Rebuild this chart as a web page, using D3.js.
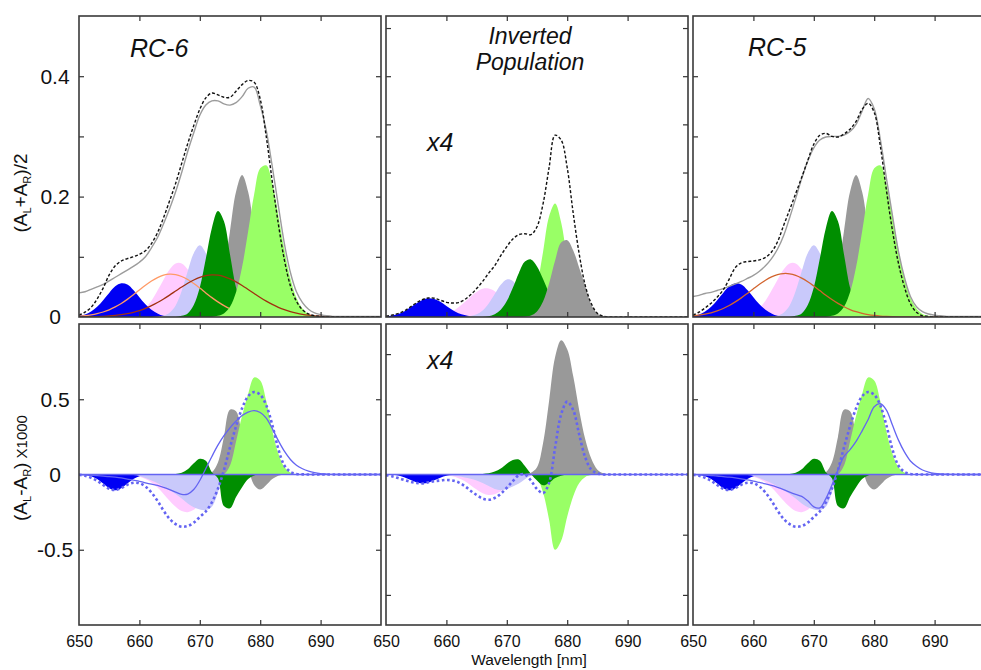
<!DOCTYPE html>
<html><head><meta charset="utf-8">
<script src="https://cdn.jsdelivr.net/npm/d3@7"></script>
<style>
body{margin:0;background:#fff}
svg{display:block;font-family:"Liberation Sans",Arial,Helvetica,sans-serif}
</style>
</head><body>
<svg id="c" width="981" height="670"></svg>
<script>
// ---------------- DATA (1 nm steps) ----------------
const wavelengths = [650,651,652,653,654,655,656,657,658,659,660,661,662,663,664,665,666,667,668,669,670,671,672,673,674,675,676,677,678,679,680,681,682,683,684,685,686,687,688,689,690,691,692,693,694,695,696,697,698,699,700];
const xTickLabels = [650,660,670,680,690];

// ---- absorption, RC-6 ----
const rc6Blue = [.002,.004,.009,.017,.028,.040,.051,.056,.054,.045, .033,.021,.012,.006,.002,.001,0,0,0,0, 0,0,0,0,0,0,0,0,0,0, 0,0,0,0,0,0,0,0,0,0, 0,0,0,0,0,0,0,0,0,0, 0];
const rc6Pink = [0,0,0,0,0,0,0,0,.001,.003, .007,.015,.027,.044,.062,.079,.089,.089,.079,.062, .044,.027,.015,.007,.003,.001,0,0,0,0, 0,0,0,0,0,0,0,0,0,0, 0,0,0,0,0,0,0,0,0,0, 0];
const rc6Lavender = [0,0,0,0,0,0,0,0,0,0, 0,0,0,.001,.002,.007,.019,.043,.076,.106, .119,.106,.076,.043,.019,.007,.002,.001,0,0, 0,0,0,0,0,0,0,0,0,0, 0,0,0,0,0,0,0,0,0,0, 0];
const rc6DarkGreen = [0,0,0,0,0,0,0,0,0,0, 0,0,0,0,0,0,0,.002,.006,.020, .049,.097,.148,.176,.159,.104,.049,.017,.004,.001, 0,0,0,0,0,0,0,0,0,0, 0,0,0,0,0,0,0,0,0,0, 0];
const rc6Gray = [0,0,0,0,0,0,0,0,0,0, 0,0,0,0,0,0,0,0,0,0, .001,.003,.010,.032,.077,.143,.208,.236,.208,.143, .077,.032,.010,.003,.001,0,0,0,0,0, 0,0,0,0,0,0,0,0,0,0, 0];
const rc6LightGreen = [0,0,0,0,0,0,0,0,0,0, 0,0,0,0,0,0,0,0,0,0, 0,0,0,.002,.006,.017,.041,.083,.142,.204, .247,.252,.222,.169,.112,.064,.032,.014,.005,.002, .001,0,0,0,0,0,0,0,0,0, 0];
const rc6Orange = [.0014,.0022,.0036,.0056,.0083,.0119,.0167,.0225,.0293,.0368, .0448,.0526,.0597,.0655,.0695,.0711,.0704,.0673,.0622,.0556, .0480,.0400,.0322,.0251,.0189,.0137,.0096,.0065,.0043,.0027, .0017,.0010,.0006,.0003,.0002,.0001,0,0,0,0, 0,0,0,0,0,0,0,0,0,0, 0];
const rc6Brown = [.0001,.0002,.0004,.0007,.0011,.0017,.0026,.0038,.0055,.0078, .0107,.0144,.0189,.0241,.0300,.0364,.0431,.0498,.0561,.0615, .0659,.0687,.0700,.0694,.0672,.0634,.0584,.0524,.0458,.0391, .0325,.0264,.0209,.0161,.0121,.0089,.0064,.0044,.0030,.0020, .0013,.0008,.0005,.0003,.0002,.0001,.0001,.0001,.0001,.0001, 0];
const rc6Measured = [.040,.042,.046,.050,.054,.060,.066,.072,.078,.084, .091,.100,.115,.132,.155,.180,.208,.240,.275,.306, .335,.352,.359,.359,.354,.352,.356,.366,.380,.382, .352,.310,.250,.185,.122,.074,.042,.024,.013,.007, .004,.002,.001,.001,.001,.001,.001,.001,.001,.001, .001];
const rc6Fit = [.003,.008,.016,.030,.048,.070,.085,.093,.097,.100, .104,.110,.122,.140,.165,.193,.222,.255,.288,.318, .345,.364,.372,.369,.365,.365,.375,.386,.393,.390, .362,.300,.225,.155,.095,.052,.026,.012,.005,.002, .001,0,0,0,0,0,0,0,0,0, 0];

// ---- absorption, inverted population (x4 scale) ----
const invBlue = [.0002,.0006,.0012,.0023,.0039,.0056,.0071,.0078,.0075,.0063, .0046,.0029,.0016,.0008,.0003,.0001,0,0,0,0, 0,0,0,0,0,0,0,0,0,0, 0,0,0,0,0,0,0,0,0,0, 0,0,0,0,0,0,0,0,0,0, 0];
const invPink = [0,0,0,0,0,0,0,0,.0003,.0006, .0012,.0023,.0040,.0061,.0084,.0104,.0117,.0118,.0107,.0088, .0065,.0043,.0026,.0014,.0007,.0003,0,0,0,0, 0,0,0,0,0,0,0,0,0,0, 0,0,0,0,0,0,0,0,0,0, 0];
const invLavender = [0,0,0,0,0,0,0,0,0,0, 0,0,0,0,.0004,.0011,.0027,.0056,.0095,.0134, .0156,.0150,.0119,.0079,.0043,.0019,.0007,.0002,0,0, 0,0,0,0,0,0,0,0,0,0, 0,0,0,0,0,0,0,0,0,0, 0];
const invDarkGreen = [0,0,0,0,0,0,0,0,0,0, 0,0,0,0,0,0,0,.0003,.0011,.0030, .0066,.0121,.0183,.0230,.0239,.0210,.0158,.0101,.0055,.0025, .0010,.0003,.0001,0,0,0,0,0,0,0, 0,0,0,0,0,0,0,0,0,0, 0];
const invLightGreen = [0,0,0,0,0,0,0,0,0,0, 0,0,0,0,0,0,0,0,0,0, 0,0,.0002,.0012,.0045,.0129,.0270,.0417,.0471,.0392, .0239,.0107,.0035,.0009,.0002,0,0,0,0,0, 0,0,0,0,0,0,0,0,0,0, 0];
const invGray = [0,0,0,0,0,0,0,0,0,0, 0,0,0,0,0,0,0,0,0,0, 0,0,0,.0001,.0006,.0023,.0064,.0139,.0235,.0309, .0319,.0276,.0204,.0128,.0050,.0015,.0004,.0001,0,0, 0,0,0,0,0,0,0,0,0,0, 0];
const invFit = [.0003,.0008,.0014,.0025,.0041,.0058,.0072,.0079,.0078,.0070, .0061,.0058,.0060,.0072,.0092,.0118,.0148,.0182,.0213,.0255, .0292,.0324,.0342,.0346,.0342,.0375,.0470,.0620,.0755,.0735, .0620,.0430,.0260,.0130,.0055,.0015,.0003,0,0,0, 0,0,0,0,0,0,0,0,0,0, 0];

// ---- absorption, RC-5 (bands as read match RC-6) ----
const rc5Blue = rc6Blue, rc5Pink = rc6Pink, rc5Lavender = rc6Lavender, rc5DarkGreen = rc6DarkGreen, rc5Gray = rc6Gray, rc5LightGreen = rc6LightGreen;
const rc5Orange = [.0020,.0031,.0048,.0070,.0101,.0141,.0191,.0251,.0318,.0392, .0469,.0544,.0611,.0667,.0704,.0722,.0718,.0692,.0646,.0586, .0515,.0439,.0362,.0290,.0226,.0170,.0124,.0088,.0061,.0040, .0026,.0016,.0010,.0006,.0003,.0002,.0001,0,0,0, 0,0,0,0,0,0,0,0,0,0, 0];
const rc5Measured = [.034,.036,.039,.041,.044,.047,.051,.055,.059,.064, .069,.076,.085,.097,.113,.135,.165,.197,.230,.259, .281,.294,.299,.300,.300,.302,.308,.320,.342,.363, .346,.296,.232,.170,.110,.066,.034,.017,.009,.005, .003,.002,.001,.001,.001,.001,.001,.001,.001,.001, .001];
const rc5Fit = [.003,.008,.015,.023,.033,.045,.063,.082,.090,.092, .093,.095,.099,.108,.125,.152,.178,.205,.232,.260, .287,.302,.305,.300,.299,.304,.312,.325,.345,.355, .340,.285,.212,.145,.090,.050,.022,.008,.002,.001, 0,0,0,0,0,0,0,0,0,0, 0];

// ---- CD (x1000), RC-6 ----
const cd6Blue = [-.001,-.003,-.011,-.030,-.060,-.091,-.105,-.091,-.060,-.030, -.011,-.003,-.001,0,0,0,0,0,0,0, 0,0,0,0,0,0,0,0,0,0, 0,0,0,0,0,0,0,0,0,0, 0,0,0,0,0,0,0,0,0,0, 0];
const cd6Pink = [0,0,0,0,0,0,0,-.001,-.003,-.007, -.015,-.030,-.053,-.087,-.129,-.174,-.215,-.243,-.250,-.234, -.200,-.156,-.111,-.072,-.043,-.023,-.011,-.005,-.002,-.001, 0,0,0,0,0,0,0,0,0,0, 0,0,0,0,0,0,0,0,0,0, 0];
const cd6Lavender = [0,0,0,0,0,0,0,0,-.001,-.004, -.010,-.024,-.040,-.058,-.080,-.105,-.130,-.160,-.192,-.218, -.232,-.236,-.215,-.120,0,0,0,0,0,0, 0,0,0,0,0,0,0,0,0,0, 0,0,0,0,0,0,0,0,0,0, 0];
const cd6DarkGreen = [0,0,0,0,0,0,0,0,0,0, 0,0,0,0,0,.001,.004,.012,.035,.075, .105,.092,.015,-.025,-.210,-.225,-.150,-.085,-.030,-.006, 0,0,0,0,0,0,0,0,0,0, 0,0,0,0,0,0,0,0,0,0, 0];
const cd6Gray = [0,0,0,0,0,0,0,0,0,0, 0,0,0,0,0,0,0,0,0,0, 0,.002,.015,.080,.250,.430,.420,.250,.060,-.070, -.100,-.070,-.030,-.008,-.001,0,0,0,0,0, 0,0,0,0,0,0,0,0,0,0, 0];
const cd6LightGreen = [0,0,0,0,0,0,0,0,0,0, 0,0,0,0,0,0,0,0,0,0, 0,0,0,0,.003,.060,.220,.390,.535,.645, .625,.490,.290,.140,.050,.014,.003,0,0,0, 0,0,0,0,0,0,0,0,0,0, 0];
const cd6Calc = [-.002,-.008,-.022,-.042,-.070,-.095,-.103,-.090,-.068,-.055, -.058,-.080,-.120,-.175,-.240,-.295,-.330,-.347,-.342,-.320, -.282,-.245,-.185,-.095,.030,.180,.320,.440,.520,.548, .530,.460,.330,.170,.060,.018,.004,.001,0,0, 0,0,0,0,0,0,0,0,0,0, 0];
const cd6Measured = [0,-.002,-.005,-.008,-.011,-.014,-.018,-.023,-.030,-.038, -.045,-.055,-.064,-.072,-.085,-.100,-.117,-.132,-.130,-.100, -.040,.040,.120,.195,.258,.310,.355,.392,.415,.425, .412,.375,.305,.225,.155,.100,.062,.038,.022,.012, .006,.003,.001,0,0,0,0,0,0,0, 0];

// ---- CD (x1000), inverted population (x4 scale) ----
const invCdBlue = [-.0001,-.0006,-.0018,-.0045,-.0086,-.0129,-.0150,-.0136,-.0096,-.0052, -.0022,-.0007,-.0002,0,0,0,0,0,0,0, 0,0,0,0,0,0,0,0,0,0, 0,0,0,0,0,0,0,0,0,0, 0,0,0,0,0,0,0,0,0,0, 0];
const invCdPink = [0,0,0,0,0,0,0,0,0,-.0005, -.0012,-.0029,-.0061,-.0110,-.0177,-.0250,-.0310,-.0339,-.0326,-.0277, -.0206,-.0135,-.0078,-.0040,-.0018,-.0007,0,0,0,0, 0,0,0,0,0,0,0,0,0,0, 0,0,0,0,0,0,0,0,0,0, 0];
const invCdLavender = [0,0,0,0,0,0,0,0,0,0, -.001,-.002,-.003,-.005,-.007,-.010,-.014,-.019,-.024,-.026, -.024,-.020,-.015,-.008,-.002,0,0,0,0,0, 0,0,0,0,0,0,0,0,0,0, 0,0,0,0,0,0,0,0,0,0, 0];
const invCdDarkGreen = [0,0,0,0,0,0,0,0,0,0, 0,0,0,0,0,0,.001,.002,.005,.010, .018,.024,.025,.014,.001,-.010,-.018,-.014,-.006,-.002, 0,0,0,0,0,0,0,0,0,0, 0,0,0,0,0,0,0,0,0,0, 0];
const invCdLightGreen = [0,0,0,0,0,0,0,0,0,0, 0,0,0,0,0,0,0,0,0,0, 0,0,0,0,-.001,-.006,-.030,-.075,-.125,-.110, -.070,-.036,-.014,-.004,-.001,0,0,0,0,0, 0,0,0,0,0,0,0,0,0,0, 0];
const invCdGray = [0,0,0,0,0,0,0,0,0,0, 0,0,0,0,0,0,0,0,0,0, 0,0,0,.001,.003,.012,.052,.122,.195,.223, .208,.163,.106,.058,.026,.008,.002,0,0,0, 0,0,0,0,0,0,0,0,0,0, 0];
const invCdCalc = [-.001,-.003,-.006,-.009,-.012,-.014,-.015,-.013,-.011,-.010, -.009,-.010,-.013,-.019,-.027,-.034,-.040,-.042,-.039,-.032, -.022,-.011,-.001,0,-.010,-.024,-.031,-.014,.045,.100, .121,.107,.066,.028,.008,.002,0,0,0,0, 0,0,0,0,0,0,0,0,0,0, 0];

// ---- CD (x1000), RC-5 (bands and calculated curve as read match RC-6) ----
const cd5Blue = cd6Blue, cd5Pink = cd6Pink, cd5Lavender = cd6Lavender, cd5DarkGreen = cd6DarkGreen, cd5Gray = cd6Gray, cd5LightGreen = cd6LightGreen, cd5Calc = cd6Calc;
const cd5Measured = [0,-.002,-.004,-.007,-.010,-.014,-.018,-.023,-.029,-.036, -.044,-.053,-.062,-.072,-.085,-.100,-.117,-.132,-.145,-.175, -.215,-.222,-.160,-.070,.030,.120,.165,.220,.290,.365, .450,.470,.430,.330,.230,.150,.090,.055,.030,.016, .008,.004,.002,.001,0,0,0,0,0,0, 0];

// ---------------- STYLE ----------------
const C = {
  blue:"#0000f4", pink:"#ffccff", lavender:"#c9c9fb", dark:"#008e00", gray:"#999999", light:"#99ff66",
  orange:"#ff9a66", brown:"#a0300f", rc5line:"#d2642e", meas:"#9c9c9c", fit:"#111111", cdline:"#6464f2"
};
const svg = d3.select("#c");
const colX = [79, 386, 693], panelW = 302;
const rowY = [16, 324], panelH = 301;
const curve = d3.curveCatmullRom.alpha(0.5);
const FONT = '"Liberation Sans",Arial,Helvetica,sans-serif';

let clipN = 0;
function drawPanel(col, row, yDomain, yTickVals, layers) {
  const x0 = colX[col], y0 = rowY[row];
  const x = d3.scaleLinear().domain([650, 700]).range([x0, x0 + panelW]);
  const y = d3.scaleLinear().domain(yDomain).range([y0 + panelH, y0]);
  const id = "clip" + (clipN++);
  svg.append("clipPath").attr("id", id).append("rect")
    .attr("x", x0).attr("y", y0).attr("width", panelW).attr("height", panelH);
  const plot = svg.append("g").attr("clip-path", `url(#${id})`);
  layers.forEach(L => {
    if (L.kind === "area") {
      plot.append("path").datum(L.values).attr("fill", L.color)
        .attr("d", d3.area().x((d, i) => x(wavelengths[i])).y0(y(0)).y1(d => y(d)).curve(curve));
    } else if (L.kind === "zero") {
      plot.append("path").datum([650, 700]).attr("fill", "none").attr("stroke", L.color).attr("stroke-width", L.width)
        .attr("d", d3.line().x(d => x(d)).y(() => y(0)));
    } else {
      plot.append("path").datum(L.values).attr("fill", "none").attr("stroke", L.color)
        .attr("stroke-width", L.width).attr("stroke-dasharray", L.dash || null)
        .attr("d", d3.line().x((d, i) => x(wavelengths[i])).y(d => y(d)).curve(curve));
    }
  });
  const g = svg.append("g");
  const styleAxis = s => { s.select(".domain").remove(); s.selectAll("line").attr("stroke", "#333").attr("stroke-width", 1.2); };
  const xt = [660, 670, 680, 690];
  g.append("g").attr("transform", `translate(0,${y0})`).call(d3.axisTop(x).tickValues(xt).tickSize(-5).tickFormat("")).call(styleAxis);
  g.append("g").attr("transform", `translate(0,${y0 + panelH})`).call(d3.axisBottom(x).tickValues(xt).tickSize(-5).tickFormat("")).call(styleAxis);
  g.append("g").attr("transform", `translate(${x0},0)`).call(d3.axisLeft(y).tickValues(yTickVals).tickSize(-5).tickFormat("")).call(styleAxis);
  g.append("g").attr("transform", `translate(${x0 + panelW},0)`).call(d3.axisRight(y).tickValues(yTickVals).tickSize(-5).tickFormat("")).call(styleAxis);
  g.append("rect").attr("x", x0).attr("y", y0).attr("width", panelW).attr("height", panelH)
    .attr("fill", "none").attr("stroke", "#3a3a3a").attr("stroke-width", 1.6);
  if (row === 1) {
    const ax = g.append("g").attr("transform", `translate(0,${y0 + panelH})`)
      .call(d3.axisBottom(x).tickValues(xTickLabels).tickSize(0).tickPadding(10.5).tickFormat(d3.format("d")));
    ax.select(".domain").remove();
    ax.attr("font-size", 16).attr("font-family", FONT);
    ax.selectAll("text").attr("fill", "#111");
  }
  return { x, y };
}

const A = (values, color) => ({ kind: "area", values, color });
const Ln = (values, color, width, dash) => ({ kind: "line", values, color, width, dash });

const topTicks = [0.1, 0.2, 0.3, 0.4];
const invTopTicks = [0.02, 0.04, 0.06, 0.08, 0.10, 0.12];
const botTicks = [-0.5, 0.5];
const invBotTicks = [-0.2, -0.1, 0.1, 0.2];

const p1 = drawPanel(0, 0, [0, 0.5], topTicks, [
  A(rc6Pink, C.pink), A(rc6Blue, C.blue), A(rc6Lavender, C.lavender), A(rc6Gray, C.gray), A(rc6DarkGreen, C.dark),
  Ln(rc6Orange, C.orange, 1.3), A(rc6LightGreen, C.light), Ln(rc6Brown, C.brown, 1.3),
  Ln(rc6Measured, C.meas, 1.4), Ln(rc6Fit, C.fit, 1.4, "3,2")
]);
drawPanel(1, 0, [0, 0.125], invTopTicks, [
  A(invPink, C.pink), A(invBlue, C.blue), A(invLavender, C.lavender), A(invLightGreen, C.light), A(invDarkGreen, C.dark), A(invGray, C.gray),
  Ln(invFit, C.fit, 1.4, "3,2")
]);
drawPanel(2, 0, [0, 0.5], topTicks, [
  A(rc5Pink, C.pink), A(rc5Blue, C.blue), A(rc5Lavender, C.lavender), A(rc5Gray, C.gray), A(rc5DarkGreen, C.dark), A(rc5LightGreen, C.light),
  Ln(rc5Orange, C.rc5line, 1.3), Ln(rc5Measured, C.meas, 1.4), Ln(rc5Fit, C.fit, 1.4, "3,2")
]);
const p4 = drawPanel(0, 1, [-1, 1], botTicks, [
  A(cd6Pink, C.pink), A(cd6Blue, C.blue), A(cd6Lavender, C.lavender), A(cd6Gray, C.gray), A(cd6DarkGreen, C.dark), A(cd6LightGreen, C.light),
  { kind: "zero", color: C.cdline, width: 1.4 },
  Ln(cd6Calc, C.cdline, 2.6, "2.6,2.6"), Ln(cd6Measured, C.cdline, 1.3)
]);
drawPanel(1, 1, [-0.25, 0.25], invBotTicks, [
  A(invCdPink, C.pink), A(invCdBlue, C.blue), A(invCdLavender, C.lavender), A(invCdLightGreen, C.light), A(invCdDarkGreen, C.dark), A(invCdGray, C.gray),
  { kind: "zero", color: C.cdline, width: 1.4 },
  Ln(invCdCalc, C.cdline, 2.6, "2.6,2.6")
]);
drawPanel(2, 1, [-1, 1], botTicks, [
  A(cd5Pink, C.pink), A(cd5Blue, C.blue), A(cd5Lavender, C.lavender), A(cd5Gray, C.gray), A(cd5DarkGreen, C.dark), A(cd5LightGreen, C.light),
  { kind: "zero", color: C.cdline, width: 1.4 },
  Ln(cd5Calc, C.cdline, 2.6, "2.6,2.6"), Ln(cd5Measured, C.cdline, 1.3)
]);

// y tick labels (left column only)
const yLab = [[p1, [0, 0.2, 0.4]], [p4, [-0.5, 0, 0.5]]];
yLab.forEach(([p, vals]) => {
  svg.append("g").selectAll("text").data(vals).join("text")
    .attr("x", 55).attr("y", d => p.y(d) + 7.3).attr("text-anchor", "middle")
    .attr("font-size", 21).attr("fill", "#111").text(d => d === 0 ? "0" : String(d));
});

// text annotations
function txt(x, y, s, size, opts = {}) {
  return svg.append("text").attr("x", x).attr("y", y).attr("font-size", size)
    .attr("font-style", opts.italic ? "italic" : null).attr("text-anchor", opts.anchor || "start")
    .attr("fill", "#111").text(s);
}
txt(130, 57, "RC-6", 25, { italic: true });
txt(530, 44, "Inverted", 23, { italic: true, anchor: "middle" });
txt(530, 70, "Population", 23, { italic: true, anchor: "middle" });
txt(748, 56, "RC-5", 25, { italic: true });
txt(427, 151, "x4", 25, { italic: true });
txt(427, 369, "x4", 25, { italic: true });
txt(529, 665, "Wavelength [nm]", 15.5, { anchor: "middle" });

// y axis titles
const t1 = svg.append("text").attr("transform", "translate(27,193) rotate(-90)").attr("text-anchor", "middle").attr("font-size", 19).attr("fill", "#111");
t1.append("tspan").text("(A");
t1.append("tspan").attr("font-size", 11).attr("dy", 4).text("L");
t1.append("tspan").attr("dy", -4).text("+A");
t1.append("tspan").attr("font-size", 11).attr("dy", 4).text("R");
t1.append("tspan").attr("dy", -4).text(")/2");
const t2 = svg.append("text").attr("transform", "translate(27,468) rotate(-90)").attr("text-anchor", "middle").attr("font-size", 19).attr("fill", "#111");
t2.append("tspan").text("(A");
t2.append("tspan").attr("font-size", 11).attr("dy", 4).text("L");
t2.append("tspan").attr("dy", -4).text("-A");
t2.append("tspan").attr("font-size", 11).attr("dy", 4).text("R");
t2.append("tspan").attr("dy", -4).text(")");
t2.append("tspan").attr("font-size", 15).text(" X1000");
</script>
</body></html>
